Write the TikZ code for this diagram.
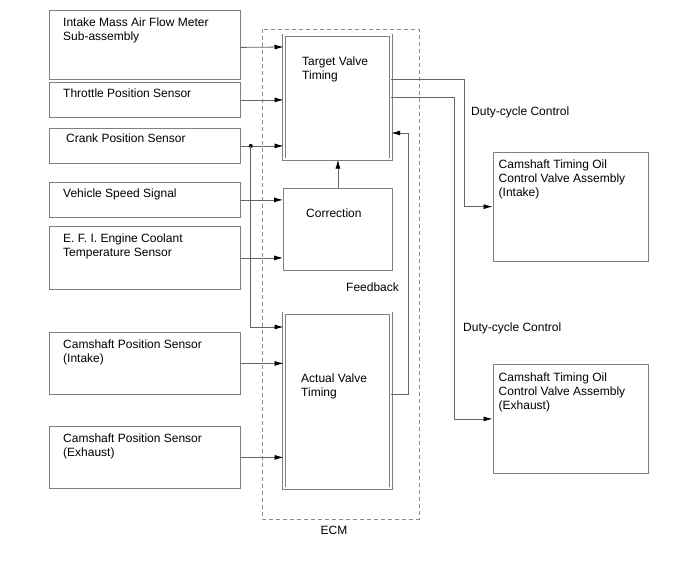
\documentclass[tikz,border=0pt]{standalone}
\usepackage{fontspec}
\setmainfont{Liberation Sans}
\usepackage{tikz}
\usetikzlibrary{arrows.meta}
\tikzset{
    sensor/.style={rectangle, draw=black!50, line width=0.8pt, anchor=north west, minimum width=191pt, inner sep=0pt},
    timing/.style={rectangle, draw=black!50, line width=0.7pt, double, double distance=2.1pt, anchor=north west, minimum width=107pt, inner sep=0pt},
    block/.style={rectangle, draw=black!50, line width=0.8pt, anchor=north west, minimum width=109pt, inner sep=0pt},
    valve/.style={rectangle, draw=black!50, line width=0.8pt, anchor=north west, minimum width=155.5pt, inner sep=0pt},
    tag/.style={anchor=north west, inner sep=0pt, align=left, font=\fontsize{12}{14}\selectfont},
    note/.style={anchor=base west, inner sep=0pt, font=\fontsize{12}{14}\selectfont},
    wire/.style={draw=black!60, line width=0.8pt},
    signal/.style={wire, ->},
    ecmbox/.style={draw=black!45, line width=0.8pt, dash pattern=on 4pt off 3pt},
}

\begin{document}
\begin{tikzpicture}[x=1pt, y=-1pt, >={Latex[length=9pt,width=5pt,color=black]}]
            \useasboundingbox (0,0) rectangle (688,560);
            \draw[ecmbox] (262,29) rectangle (419,519);
            \node[sensor, minimum height=69pt] (maf) at (49,10) {};
            \node[sensor, minimum height=35pt] (tps) at (49,82) {};
            \node[sensor, minimum height=35pt] (crank) at (49,128) {};
            \node[sensor, minimum height=35pt] (vss) at (49,182) {};
            \node[sensor, minimum height=63pt] (ect) at (49,226) {};
            \node[sensor, minimum height=62pt] (camin) at (49,332) {};
            \node[sensor, minimum height=62pt] (camex) at (49,426) {};
            \node[timing, minimum height=124pt] (target) at (283.5,35) {};
            \node[block, minimum height=82pt] (corr) at (283,188) {};
            \node[timing, minimum height=175pt] (actual) at (283.5,313) {};
            \node[valve, minimum height=108.5pt] (ocvin) at (492.5,152) {};
            \node[valve, minimum height=109pt] (ocvex) at (492.5,364) {};
            \node[tag] (maf-t) at ([xshift=14pt,yshift=-8pt]maf.north west) {Intake Mass Air Flow Meter\\Sub-assembly};
            \node[tag] (tps-t) at ([xshift=14pt,yshift=-6.5pt]tps.north west) {Throttle Position Sensor};
            \node[tag] (crank-t) at ([xshift=17pt,yshift=-5.5pt]crank.north west) {Crank Position Sensor};
            \node[tag] (vss-t) at ([xshift=14pt,yshift=-6.5pt]vss.north west) {Vehicle Speed Signal};
            \node[tag] (ect-t) at ([xshift=14pt,yshift=-7.3pt]ect.north west) {E. F. I. Engine Coolant\\Temperature Sensor};
            \node[tag] (camin-t) at ([xshift=14pt,yshift=-7.5pt]camin.north west) {Camshaft Position Sensor\\(Intake)};
            \node[tag] (camex-t) at ([xshift=14pt,yshift=-8pt]camex.north west) {Camshaft Position Sensor\\(Exhaust)};
            \node[tag] (target-t) at ([xshift=18.5pt,yshift=-21.4pt]target.north west) {Target Valve\\Timing};
            \node[tag] (corr-t) at ([xshift=23pt,yshift=-20.4pt]corr.north west) {Correction};
            \node[tag] (actual-t) at ([xshift=17.5pt,yshift=-60.4pt]actual.north west) {Actual Valve\\Timing};
            \node[tag] (ocvin-t) at ([xshift=6pt,yshift=-7.5pt]ocvin.north west) {Camshaft Timing Oil\\Control Valve Assembly\\(Intake)};
            \node[tag] (ocvex-t) at ([xshift=6pt,yshift=-8.3pt]ocvex.north west) {Camshaft Timing Oil\\Control Valve Assembly\\(Exhaust)};
            \node[note] (duty-in) at (471,115) {Duty-cycle Control};
            \node[note] (duty-ex) at (463,331) {Duty-cycle Control};
            \node[note] (fb) at (346,291) {Feedback};
            \node[note, anchor=base] (ecm) at (334,534) {ECM};
            \coordinate (tap) at ([xshift=10pt]crank.east);
            \draw[signal] ([yshift=-2.5pt]maf.east) -- ([yshift=-12pt]target.north west);
            \draw[signal] (tps.east) -- (tps.east -| target.west);
            \draw[signal] (crank.east) -- (crank.east -| target.west);
            \fill (tap) circle (2pt);
            \draw[signal] (tap) |- ([yshift=-14pt]actual.north west);
            \draw[signal] (vss.east) -- (vss.east -| corr.west);
            \draw[signal] (ect.east) -- (ect.east -| corr.west);
            \draw[signal] (camin.east) -- (camin.east -| actual.west);
            \draw[signal] (camex.east) -- (camex.east -| actual.west);
            \draw[signal] (corr.north) -- (corr.north |- target.south);
            \draw[signal] ([yshift=6pt]actual.east) -- ++(17.5,0) |- ([yshift=-98pt]target.north east);
            \draw[signal] ([yshift=-44pt]target.north east) -| ([xshift=-28.5pt]ocvin.west) -- (ocvin.west);
            \draw[signal] ([yshift=-62pt]target.north east) -| ([xshift=-38.5pt]ocvex.west) -- (ocvex.west);
        \end{tikzpicture}
\end{document}
